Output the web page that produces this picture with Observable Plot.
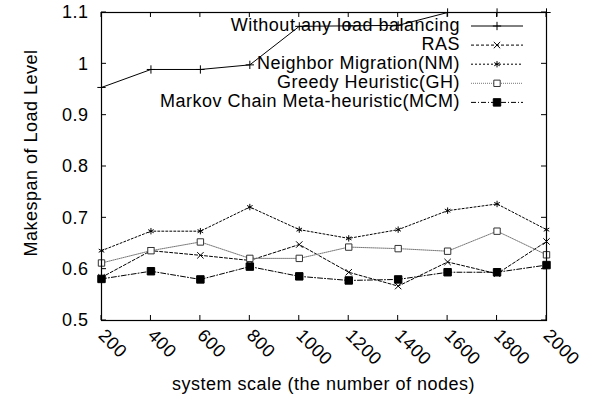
<!DOCTYPE html>
<html><head><meta charset="utf-8">
<script src="https://cdn.jsdelivr.net/npm/d3@7"></script>
<script src="https://cdn.jsdelivr.net/npm/@observablehq/plot@0.6"></script>
<style>
body{margin:0;background:#fff;}
#chart{width:591px;height:398px;}
</style></head><body><div id="chart"></div>
<script>
const nodes = [200, 400, 600, 800, 1000, 1200, 1400, 1600, 1800, 2000];
const seriesNames = ["Without any load balancing", "RAS", "Neighbor Migration(NM)", "Greedy Heuristic(GH)", "Markov Chain Meta-heuristic(MCM)"];
const withoutLB = [0.954, 0.989, 0.989, 0.998, 1.073, 1.074, 1.075, 1.1, 1.1, 1.1];
const ras       = [0.584, 0.636, 0.627, 0.617, 0.648, 0.594, 0.567, 0.614, 0.591, 0.654];
const nm        = [0.636, 0.674, 0.674, 0.721, 0.677, 0.660, 0.677, 0.714, 0.727, 0.677];
const gh        = [0.612, 0.636, 0.653, 0.621, 0.621, 0.643, 0.640, 0.635, 0.674, 0.628];
const mcm       = [0.581, 0.596, 0.580, 0.605, 0.586, 0.578, 0.580, 0.594, 0.594, 0.608];
const yTicks = [0.5, 0.6, 0.7, 0.8, 0.9, 1.0, 1.1];
const yTickLabels = ["0.5", "0.6", "0.7", "0.8", "0.9", "1", "1.1"];
const xTickLabels = ["200", "400", "600", "800", "1000", "1200", "1400", "1600", "1800", "2000"];
const xTitle = "system scale (the number of nodes)";
const yTitle = "Makespan of Load Level";

const allValues = [withoutLB, ras, nm, gh, mcm];
const styles = [
  {stroke: "#000", dash: null, symbol: "plus", fill: "none", symStroke: "#000", r: 2.8},
  {stroke: "#000", dash: "3,2", symbol: "times", fill: "none", symStroke: "#000", r: 3},
  {stroke: "#000", dash: "2,2", symbol: "asterisk", fill: "none", symStroke: "#000", r: 3},
  {stroke: "#777", dash: "1,1", symbol: "square", fill: "#fff", symStroke: "#333", r: 3.6},
  {stroke: "#000", dash: "5,2,1,2", symbol: "square", fill: "#000", symStroke: "#000", r: 4.2}
];
const FONT = "Liberation Sans, Arial, Helvetica, sans-serif";
const FS = 18;
const LS = "0.5px";

const data = allValues.map((vals, s) => nodes.map((n, i) => ({x: n, y: vals[i], s})));

const marks = [];
data.forEach((d, s) => {
  const st = styles[s];
  marks.push(Plot.line(d, {x: "x", y: "y", stroke: st.stroke, strokeWidth: 1, strokeDasharray: st.dash, clip: true}));
});
data.forEach((d, s) => {
  const st = styles[s];
  marks.push(Plot.dot(d, {x: "x", y: "y", symbol: st.symbol, r: st.r, fill: st.fill, stroke: st.symStroke, strokeWidth: 1}));
});

const chart = Plot.plot({
  width: 591,
  height: 398,
  marginLeft: 101,
  marginRight: 45,
  marginTop: 12,
  marginBottom: 78,
  style: {fontFamily: FONT, fontSize: FS + "px", letterSpacing: LS, background: "#fff", color: "#000", overflow: "visible"},
  x: {domain: [200, 2000]},
  y: {domain: [0.5, 1.1]},
  marks: [
    Plot.axisY({ticks: yTicks, tickFormat: (d, i) => yTickLabels[i], tickSize: 0, tickPadding: 13, fontSize: FS, label: null}),
    Plot.axisX({ticks: nodes, tickFormat: (d, i) => xTickLabels[i], tickSize: 0, tickRotate: 45, tickPadding: 12, fontSize: FS, label: null}),
    ...marks,
    Plot.frame({stroke: "#000", strokeWidth: 1.2})
  ]
});
document.getElementById("chart").appendChild(chart);

const sx = chart.scale("x"), sy = chart.scale("y");
const svg = d3.select(chart);
const x0 = sx.range[0], x1 = sx.range[1];
const y0 = sy.range[0], y1 = sy.range[1];
const T = 5;
const g = svg.append("g").attr("stroke", "#000").attr("stroke-width", 1);
nodes.forEach(n => {
  const px = sx.apply(n);
  g.append("line").attr("x1", px).attr("x2", px).attr("y1", y0).attr("y2", y0 - T);
  g.append("line").attr("x1", px).attr("x2", px).attr("y1", y1).attr("y2", y1 + T);
});
yTicks.forEach(v => {
  const py = sy.apply(v);
  g.append("line").attr("y1", py).attr("y2", py).attr("x1", x0).attr("x2", x0 + T);
  g.append("line").attr("y1", py).attr("y2", py).attr("x1", x1).attr("x2", x1 - T);
});

// axis titles
svg.append("text").attr("x", (x0 + x1) / 2).attr("y", 385).attr("text-anchor", "middle")
  .attr("dominant-baseline", "middle").attr("font-family", FONT).attr("font-size", FS).attr("fill", "#000").text(xTitle);
svg.append("text").attr("transform", `translate(32,153) rotate(-90)`).attr("text-anchor", "middle")
  .attr("dominant-baseline", "middle").attr("font-family", FONT).attr("font-size", FS).attr("fill", "#000").text(yTitle);

// legend
const symMap = {plus: d3.symbolPlus, times: d3.symbolTimes, asterisk: d3.symbolAsterisk, square: d3.symbolSquare};
const lg = svg.append("g");
seriesNames.forEach((name, i) => {
  const st = styles[i];
  const yy = 26 + i * 19.1;
  lg.append("text").attr("x", 460).attr("y", yy).attr("text-anchor", "end").attr("dominant-baseline", "middle")
    .attr("font-family", FONT).attr("font-size", FS).attr("fill", "#000").text(name);
  lg.append("line").attr("x1", 471).attr("x2", 523).attr("y1", yy).attr("y2", yy)
    .attr("stroke", st.stroke).attr("stroke-width", 1).attr("stroke-dasharray", st.dash);
  lg.append("path").attr("transform", `translate(497,${yy})`)
    .attr("d", d3.symbol(symMap[st.symbol], st.r * st.r * Math.PI)())
    .attr("fill", st.fill).attr("stroke", st.symStroke).attr("stroke-width", 1);
});
</script></body></html>
